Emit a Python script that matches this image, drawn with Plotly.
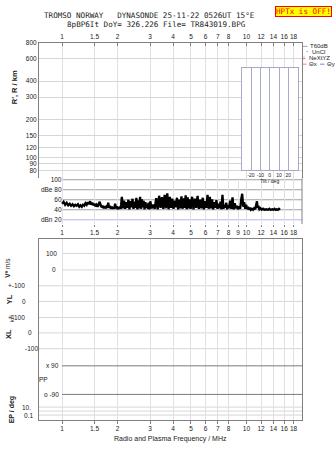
import math
import plotly.graph_objects as go

# ---------------- data ----------------
freq_ticks = [1, 1.5, 2, 3, 4, 5, 6, 7, 8, 10, 12, 14, 16, 18]
freq_tick_text = ["1", "1.5", "2", "3", "4", "5", "6", "7", "8", "10", "12", "14", "16", "18"]
db_freq_ticks = [1, 1.5, 2, 3, 4, 5, 6, 7, 8, 9, 10, 12, 14, 16, 18]
db_freq_tick_text = ["1", "1.5", "2", "3", "4", "5", "6", "7", "8", "9", "10", "12", "14", "16", "18"]
range_ticks = [80, 90, 100, 120, 150, 200, 300, 400, 600, 800]
range_tick_text = ["80", "90", "100", "120", "150", "200", "300", "400", "600", "800"]
db_ticks = [20, 40, 60, 80, 100]
db_tick_text = ["dBn 20", "40", "60", "dBe 80", "100"]
tilt_ticks = [-20, -10, 0, 10, 20]
tilt_tick_text = ["-20", "-10", "0", "10", "20"]

# lower panel rows (row coordinate on a 0..100 panel scale) and their labels
lower_rows = [91.8, 82.7, 73.9, 65.3, 56.4, 47.9, 39.2, 29.7, 22.1, 13.9, 6.9, 4.7, 2.5]
lower_labels = ["100", "0", "+-100", "0", "+-100", "0", "-100", "x 90", "PP", "o -90", "10.", "", "0.1"]

noise_freq = [
    1.00, 1.02, 1.04, 1.06, 1.08, 1.10, 1.12, 1.14, 1.16, 1.18,
    1.20, 1.22, 1.24, 1.26, 1.28, 1.30, 1.32, 1.34, 1.36, 1.38,
    1.40, 1.42, 1.44, 1.46, 1.48, 1.50, 1.52, 1.54, 1.56, 1.58,
    1.60, 1.62, 1.64, 1.66, 1.68, 1.70, 1.72, 1.74, 1.76, 1.78,
    1.80, 1.82, 1.84, 1.86, 1.88, 1.90, 1.92, 1.94, 1.96, 1.98,
    2.00, 2.02, 2.04, 2.06, 2.08,
    2.11, 2.14, 2.17, 2.20, 2.23, 2.26, 2.29, 2.32, 2.35, 2.38,
    2.41, 2.44, 2.47, 2.50, 2.53, 2.56, 2.59, 2.62, 2.65, 2.68,
    2.71, 2.74, 2.77, 2.80, 2.83, 2.86, 2.89, 2.92, 2.95, 2.98, 3.01,
    3.06, 3.12, 3.18, 3.24, 3.30, 3.36, 3.42, 3.48, 3.54, 3.60,
    3.66, 3.72, 3.78, 3.84, 3.90, 3.96, 4.02, 4.08, 4.14, 4.20,
    4.26, 4.32, 4.38, 4.44, 4.50, 4.56, 4.62, 4.68, 4.74, 4.80, 4.86, 4.92, 4.98,
    5.07, 5.16, 5.25, 5.34, 5.43, 5.52, 5.61, 5.70, 5.79, 5.88,
    5.97, 6.06, 6.15, 6.24, 6.33, 6.42, 6.51, 6.60, 6.69, 6.78,
    6.87, 6.96, 7.05, 7.14, 7.23, 7.32, 7.41, 7.50, 7.59, 7.68, 7.77, 7.86, 7.95, 8.04,
    8.16, 8.28, 8.40, 8.52, 8.64, 8.76, 8.88, 9.00, 9.12, 9.24,
    9.36, 9.48, 9.60, 9.72, 9.84, 9.96, 10.08, 10.20, 10.32, 10.44, 10.56,
    10.70, 10.85, 11.00, 11.15, 11.30, 11.40, 11.50, 11.60, 11.75, 11.90,
    12.10, 12.30, 12.50, 12.80, 13.10, 13.30, 13.50, 13.80, 14.00, 14.20,
    14.40, 14.60, 14.80, 15.00, 15.20,
]
noise_db = [
    52, 56, 50, 54, 49, 52, 48, 51, 47, 50,
    48, 51, 46, 49, 46, 50, 48, 53, 50, 55,
    51, 57, 50, 54, 49, 52, 47, 50, 46, 53,
    56, 49, 45, 48, 43, 47, 43, 46, 44, 54,
    44, 48, 42, 46, 42, 45, 42, 52, 43, 47,
    41, 45, 42, 46, 42,
    66, 43, 58, 42, 55, 44, 60, 41, 57, 45,
    62, 42, 56, 44, 64, 41, 59, 43, 66, 42,
    61, 45, 58, 41, 55, 44, 52, 42, 54, 41, 57,
    43, 50, 42, 63, 41, 68, 44, 65, 42, 70,
    43, 73, 41, 66, 44, 62, 42, 58, 45, 64,
    41, 60, 43, 67, 42, 63, 44, 69, 41, 65, 43, 61, 42,
    66, 41, 62, 44, 68, 42, 60, 43, 64, 41,
    57, 44, 70, 42, 66, 43, 61, 41, 55, 44,
    59, 42, 52, 43, 56, 41, 70, 42, 50, 44, 54, 41, 49, 43,
    58, 42, 65, 41, 53, 43, 48, 41, 47, 42,
    60, 72, 46, 55, 42, 50, 41, 46, 40, 44, 40,
    42, 40, 43, 41, 52, 57, 44, 48, 41, 43,
    40, 42, 40, 41, 40, 42, 40, 41, 40, 42,
    40, 41, 40, 42, 40,
]

title1 = "TROMSO NORWAY   DYNASONDE 25-11-22 0526UT 15°E"
title2 = "8pBP6It DoY= 326.226 File= TR843019.BPG"

# ---------------- layout helpers ----------------
W, H = 335, 451


def px(x):
    return x / W


def py(y):
    return (H - y) / H


FONT = "Liberation Sans"
MONO = "DejaVu Sans Mono"
TXT = "#1a1a1a"
AXLINE = "#808080"
VGRID = "#e4dde4"
HGRID = "#d6d6d6"
TILT = "#a8a8c8"

xdom = [px(39), px(302)]
xrange_ = [math.log10(0.75), math.log10(20)]
tickfont = dict(family=FONT, size=6.5, color=TXT)

fig = go.Figure()

# noise trace (dB panel)
fig.add_trace(go.Scatter(x=noise_freq, y=noise_db, xaxis="x3", yaxis="y2",
                         mode="lines", line=dict(color="black", width=2.3),
                         showlegend=False, hoverinfo="skip"))
# empty traces to register the other subplots
fig.add_trace(go.Scatter(x=[], y=[], xaxis="x2", yaxis="y", showlegend=False))
fig.add_trace(go.Scatter(x=[], y=[], xaxis="x", yaxis="y3", showlegend=False))
fig.add_trace(go.Scatter(x=[], y=[], xaxis="x4", yaxis="y4", showlegend=False))

base_x = dict(type="log", range=xrange_, domain=xdom, zeroline=False,
              tickfont=tickfont, tickangle=0, showgrid=True, gridcolor=VGRID, gridwidth=1)

layout = dict(
    width=W, height=H, autosize=False,
    margin=dict(l=0, r=0, t=0, b=0),
    paper_bgcolor="white", plot_bgcolor="white",
    showlegend=False,
    xaxis=dict(base_x, anchor="y3", side="bottom", tickvals=freq_ticks, ticktext=freq_tick_text,
               ticks="outside", ticklen=3, tickcolor=AXLINE, showline=True, linecolor=AXLINE,
               mirror=True, linewidth=1),
    xaxis2=dict(base_x, anchor="y", side="top", tickvals=freq_ticks, ticktext=freq_tick_text,
                ticks="inside", ticklen=3, tickcolor=AXLINE, showline=True, linecolor=AXLINE,
                linewidth=1),
    xaxis3=dict(base_x, anchor="y2", side="bottom", tickvals=db_freq_ticks, ticktext=db_freq_tick_text,
                ticks="outside", ticklen=2, tickcolor=AXLINE, showline=False),
    xaxis4=dict(domain=[px(241.7), px(297.7)], range=[-30, 30], anchor="y4",
                tickvals=tilt_ticks, ticktext=tilt_tick_text, tickangle=0,
                tickfont=dict(family=FONT, size=5, color=TXT), ticks="",
                showgrid=True, gridcolor=TILT, gridwidth=1, zeroline=False,
                showline=True, linecolor=TILT, mirror=True,
                title=dict(text="Tilt / deg", font=dict(family=FONT, size=5, color=TXT), standoff=0)),
    xaxis5=dict(type="log", range=xrange_, overlaying="x", anchor="y3", side="top",
                tickvals=freq_ticks, showticklabels=False, ticks="inside", ticklen=3,
                tickcolor=AXLINE, showgrid=False, showline=False, zeroline=False),
    yaxis=dict(type="log", domain=[py(176), py(39)], range=[math.log10(800) - 137 / 128.8, math.log10(800)],
               anchor="x2", tickvals=range_ticks, ticktext=range_tick_text, tickfont=tickfont,
               ticks="", showgrid=True, gridcolor=HGRID, gridwidth=1, zeroline=False,
               showline=True, linecolor=AXLINE, mirror=True, linewidth=1),
    yaxis2=dict(domain=[py(222), py(176)], range=[11.5, 102.6], anchor="free", position=px(61.5),
                tickvals=db_ticks, ticktext=db_tick_text, tickfont=tickfont, ticks="",
                showgrid=False, zeroline=False, showline=False),
    yaxis3=dict(domain=[py(419.3), py(236.7)], range=[0, 100], anchor="x",
                showticklabels=False, ticks="", showgrid=False, zeroline=False,
                showline=True, linecolor=AXLINE, mirror=True, linewidth=1),
    yaxis4=dict(domain=[py(167.7), py(65)], range=[0, 1], anchor="x4",
                showticklabels=False, ticks="", showgrid=False, zeroline=False,
                showline=True, linecolor=TILT, mirror=True),
)
fig.update_layout(**layout)

shapes = []
for v in db_ticks:
    shapes.append(dict(type="line", xref="x3", yref="y2", x0=1, x1=20, y0=v, y1=v,
                       line=dict(color="#b4b4f0" if v == 20 else "#a0a0a0", width=1), layer="below"))
shapes.append(dict(type="line", xref="paper", yref="paper", x0=px(302), x1=px(302),
                   y0=py(222), y1=py(176), line=dict(color=AXLINE, width=1)))

row_style = ["f1", "f1", "full", "full", "full", "full", "full", "dark", None, "dark", "full", "full", "full"]
for r, st in zip(lower_rows, row_style):
    if st is None:
        continue
    if st == "full":
        shapes.append(dict(type="line", xref="x domain", yref="y3", x0=0, x1=1, y0=r, y1=r,
                           line=dict(color=HGRID, width=1), layer="below"))
    elif st == "f1":
        shapes.append(dict(type="line", xref="x", yref="y3", x0=1, x1=20, y0=r, y1=r,
                           line=dict(color=HGRID, width=1), layer="below"))
    else:
        shapes.append(dict(type="line", xref="x", yref="y3", x0=1, x1=20, y0=r, y1=r,
                           line=dict(color="#7a7a7a", width=1)))

# legend samples
shapes.append(dict(type="line", xref="paper", yref="paper", x0=px(302.7), x1=px(307.5),
                   y0=py(42.7), y1=py(42.7), line=dict(color="#a0a0a0", width=1)))
shapes.append(dict(type="line", xref="paper", yref="paper", x0=px(302.7), x1=px(306.5),
                   y0=py(60.7), y1=py(60.7), line=dict(color="#f08080", width=1)))
shapes.append(dict(type="line", xref="paper", yref="paper", x0=px(320), x1=px(324.5),
                   y0=py(60.7), y1=py(60.7), line=dict(color="#8080f0", width=1)))
fig.update_layout(shapes=shapes)

ann = []


def text(x, y, s, size=6.5, family=FONT, xanchor="center", color=TXT, angle=0, **kw):
    ann.append(dict(x=px(x), y=py(y), xref="paper", yref="paper", text=s, showarrow=False,
                    xanchor=xanchor, yanchor="middle", textangle=angle,
                    font=dict(family=family, size=size, color=color), **kw))


# titles
text(149, 11.8, title1, size=7.6, family=MONO)
text(156.5, 20.2, title2, size=7.6, family=MONO)
ann.append(dict(x=px(303), y=py(7.6), xref="paper", yref="paper", text="HPTx is OFF!",
                showarrow=False, xanchor="center", yanchor="middle",
                font=dict(family=MONO, size=7.6, color="#ff0000"), bgcolor="#ffff00",
                bordercolor="#ff0000", borderwidth=1, borderpad=0))

# legend texts
text(308, 42.7, "T60dB", xanchor="left", size=6)
text(306.5, 48.2, "·", xanchor="center", size=7)
text(310, 48.7, "UnCl", xanchor="left", size=6)
text(303.5, 54.7, "+", xanchor="center", size=7, color="#f06080")
text(306.5, 54.7, "NeXtYZ", xanchor="left", size=6)
text(306.5, 60.7, "Θx", xanchor="left", size=6)
text(324.5, 60.7, "Θy", xanchor="left", size=6)

# axis titles
text(14, 84, "<b>R', R / km</b>", size=7.5, angle=-90)
text(8, 266, "<b>V*</b> m/s", size=6.5, angle=-90)
text(9, 298, "<b>YL</b>", size=7.5, angle=-90)
text(12, 316.7, "km", size=5.5, angle=-90)
text(8, 333, "<b>XL</b>", size=7.5, angle=-90)
text(12, 409, "<b>EP / deg</b>", size=7, angle=-90)
text(170.5, 438.7, "Radio and Plasma Frequency / MHz", size=7)

# lower panel labels
label_right = [59, 58, 27, 28, 27, 34, 40, 61, 50, 61, 33, 0, 35]
for r, lab, xr in zip(lower_rows, lower_labels, label_right):
    if not lab:
        continue
    ann.append(dict(x=px(xr), y=r, xref="paper", yref="y3", text=lab, showarrow=False,
                    xanchor="right", yanchor="middle",
                    font=dict(family=FONT, size=6.5, color=TXT)))

fig.update_layout(annotations=ann)

fig.write_html("out.html", config={"displayModeBar": False})
